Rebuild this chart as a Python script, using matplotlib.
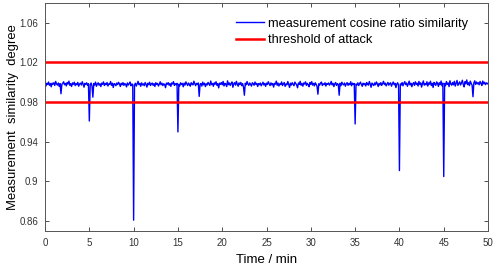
import numpy as np
import matplotlib
matplotlib.use("Agg")
import matplotlib.pyplot as plt

plt.rcParams['font.family'] = ['Liberation Sans', 'DejaVu Sans']

# time axis, one sample every 0.1 min
time_min = np.arange(0, 501) / 10.0

similarity = [
    0.9985, 0.9962, 0.9991, 0.9978, 1.0003, 0.9970, 0.9988, 0.9955, 0.9992, 0.9981,
    0.9996, 0.9968, 1.0009, 0.9984, 0.9972, 0.9993, 0.9959, 0.9987, 0.9885, 0.9979,
    0.9990, 1.0005, 0.9976, 0.9989, 0.9964, 0.9998, 0.9983, 1.0012, 0.9970, 0.9986,
    0.9958, 0.9994, 0.9980, 1.0001, 0.9967, 0.9988, 0.9975, 0.9999, 0.9961, 0.9984,
    0.9992, 0.9973, 1.0006, 0.9982, 0.9951, 0.9990, 0.9979, 0.9995, 0.9969, 0.9986,
    0.9610, 0.9978, 0.9993, 0.9965, 0.9850, 0.9988, 0.9974, 1.0002, 0.9960, 0.9983,
    0.9995, 0.9971, 0.9986, 0.9957, 0.9992, 0.9980, 1.0004, 0.9968, 0.9989, 0.9976,
    0.9998, 0.9963, 0.9985, 0.9979, 1.0008, 0.9970, 0.9991, 0.9948, 0.9987, 0.9982,
    0.9966, 0.9993, 0.9977, 1.0000, 0.9984, 0.9958, 0.9990, 0.9975, 0.9997, 0.9969,
    0.9988, 0.9980, 0.9954, 0.9994, 0.9972, 0.9986, 1.0003, 0.9965, 0.9983, 0.9978,
    0.8610, 0.9974, 0.9991, 0.9962, 0.9987, 1.0010, 0.9977, 0.9989, 0.9960, 0.9995,
    0.9973, 0.9985, 0.9966, 0.9998, 0.9981, 0.9952, 0.9990, 0.9976, 1.0001, 0.9968,
    0.9984, 0.9993, 0.9970, 0.9987, 0.9958, 0.9996, 0.9979, 0.9989, 0.9963, 0.9982,
    1.0005, 0.9975, 0.9991, 0.9967, 0.9985, 0.9978, 0.9946, 0.9992, 0.9980, 0.9997,
    0.9971, 0.9988, 0.9959, 0.9994, 0.9983, 1.0007, 0.9969, 0.9986, 0.9976, 0.9990,
    0.9500, 0.9981, 0.9964, 0.9995, 0.9977, 0.9989, 0.9955, 0.9992, 0.9972, 1.0004,
    0.9985, 0.9968, 0.9993, 0.9979, 0.9961, 0.9996, 0.9982, 0.9974, 1.0011, 0.9987,
    0.9966, 0.9990, 0.9978, 0.9994, 0.9858, 0.9980, 0.9988, 0.9962, 1.0002, 0.9975,
    0.9991, 0.9957, 0.9986, 0.9973, 0.9999, 0.9983, 0.9968, 1.0013, 0.9977, 0.9989,
    0.9960, 0.9995, 0.9981, 1.0006, 0.9970, 0.9987, 0.9944, 0.9992, 0.9979, 0.9998,
    0.9975, 1.0009, 0.9963, 0.9990, 0.9982, 0.9958, 1.0015, 0.9977, 0.9993, 0.9969,
    0.9988, 1.0004, 0.9950, 0.9985, 0.9997, 0.9972, 1.0010, 0.9980, 0.9961, 0.9994,
    0.9978, 0.9999, 0.9966, 0.9987, 0.9953, 0.9870, 0.9991, 0.9975, 1.0008, 0.9983,
    0.9969, 0.9994, 0.9980, 0.9962, 0.9996, 0.9985, 0.9971, 1.0003, 0.9979, 0.9990,
    0.9958, 0.9987, 0.9976, 0.9993, 0.9965, 0.9982, 1.0001, 0.9973, 0.9989, 0.9960,
    0.9992, 0.9978, 1.0006, 0.9984, 0.9967, 0.9995, 0.9974, 0.9988, 0.9952, 0.9990,
    0.9981, 1.0012, 0.9970, 0.9993, 0.9963, 0.9986, 0.9977, 1.0004, 0.9968, 0.9985,
    0.9997, 0.9959, 0.9983, 0.9975, 1.0008, 0.9980, 0.9948, 0.9991, 0.9972, 0.9996,
    0.9982, 0.9966, 1.0002, 0.9987, 0.9974, 0.9945, 0.9993, 0.9979, 1.0010, 0.9971,
    0.9988, 0.9961, 0.9994, 0.9983, 1.0005, 0.9969, 0.9990, 0.9976, 0.9956, 0.9998,
    0.9979, 1.0007, 0.9972, 0.9989, 0.9964, 0.9995, 0.9981, 0.9960, 0.9880, 0.9986,
    0.9973, 0.9992, 1.0003, 0.9968, 0.9985, 0.9977, 0.9996, 0.9962, 0.9988, 0.9980,
    0.9994, 0.9971, 0.9986, 1.0009, 0.9975, 0.9990, 0.9957, 0.9983, 0.9998, 0.9969,
    0.9987, 0.9978, 0.9870, 0.9991, 0.9966, 1.0001, 0.9982, 0.9974, 0.9993, 0.9961,
    0.9984, 0.9997, 0.9970, 0.9989, 0.9976, 1.0006, 0.9965, 0.9992, 0.9980, 0.9988,
    0.9580, 0.9983, 0.9973, 0.9995, 0.9967, 0.9987, 1.0002, 0.9978, 0.9960, 0.9991,
    0.9976, 0.9989, 0.9963, 0.9998, 0.9982, 0.9971, 1.0008, 0.9985, 0.9950, 0.9993,
    0.9980, 0.9967, 0.9994, 0.9975, 1.0004, 0.9986, 0.9958, 0.9990, 0.9973, 0.9997,
    0.9969, 0.9987, 1.0010, 0.9978, 0.9992, 0.9964, 0.9983, 0.9999, 0.9971, 0.9988,
    0.9995, 0.9961, 0.9985, 1.0003, 0.9976, 0.9990, 0.9947, 0.9982, 0.9996, 0.9970,
    0.9110, 0.9984, 0.9972, 0.9998, 0.9965, 0.9989, 1.0007, 0.9977, 0.9993, 0.9960,
    0.9986, 1.0012, 0.9974, 0.9991, 0.9956, 0.9983, 0.9997, 0.9969, 1.0005, 0.9980,
    0.9992, 0.9963, 1.0009, 0.9978, 0.9995, 0.9952, 0.9988, 1.0014, 0.9971, 0.9986,
    0.9975, 1.0006, 0.9962, 0.9994, 0.9981, 1.0011, 0.9968, 0.9990, 0.9948, 0.9999,
    0.9983, 0.9970, 1.0004, 0.9987, 0.9959, 0.9996, 0.9977, 1.0013, 0.9965, 0.9992,
    0.9050, 0.9989, 0.9966, 1.0008, 0.9979, 0.9994, 0.9957, 1.0016, 0.9982, 0.9971,
    0.9998, 0.9975, 1.0010, 0.9962, 0.9991, 1.0019, 0.9969, 0.9987, 1.0005, 0.9973,
    0.9993, 1.0021, 0.9980, 0.9954, 1.0007, 0.9985, 1.0024, 0.9976, 0.9996, 0.9967,
    1.0012, 0.9988, 0.9972, 0.9855, 0.9994, 1.0015, 0.9979, 1.0003, 0.9984, 0.9997,
    0.9975, 1.0009, 0.9990, 0.9968, 1.0013, 0.9986, 1.0001, 0.9977, 0.9995, 0.9983,
    0.9992,
]

threshold_upper = 1.02
threshold_lower = 0.98

y_ticks = [0.86, 0.9, 0.94, 0.98, 1.02, 1.06]
y_tick_labels = ["0.86", "0.9", "0.94", "0.98", "1.02", "1.06"]
x_ticks = list(range(0, 51, 5))

fig = plt.figure(figsize=(4.98, 2.65), dpi=100)
ax = fig.add_axes([0.0904, 0.128, 0.8896, 0.8607])

ax.plot(time_min, similarity, color="#0000ff", linewidth=1.0,
        label="measurement cosine ratio similarity")
ax.axhline(threshold_upper, color="#ff0000", linewidth=1.8, label="threshold of attack")
ax.axhline(threshold_lower, color="#ff0000", linewidth=1.8)

ax.set_xlim(0, 50)
ax.set_ylim(0.85, 1.08)
ax.set_xticks(x_ticks)
ax.set_yticks(y_ticks)
ax.set_yticklabels(y_tick_labels)
ax.tick_params(direction="in", top=True, right=True, length=3, width=0.6,
               labelsize=7, colors="#333333", pad=5)
for sp in ax.spines.values():
    sp.set_color("#555555")
    sp.set_linewidth(0.7)

ax.set_xlabel("Time / min", fontsize=9.5, labelpad=4)
ax.set_ylabel("Measurement  similarity  degree", fontsize=9.4)
ax.yaxis.set_label_coords(-0.058, 0.5)

ax.legend(loc="upper left", bbox_to_anchor=(0.41, 0.975), frameon=False,
          fontsize=9.2, handlelength=2.2, handletextpad=0.3, labelspacing=0.35,
          borderaxespad=0.3)

fig.savefig("out.png", dpi=100)
